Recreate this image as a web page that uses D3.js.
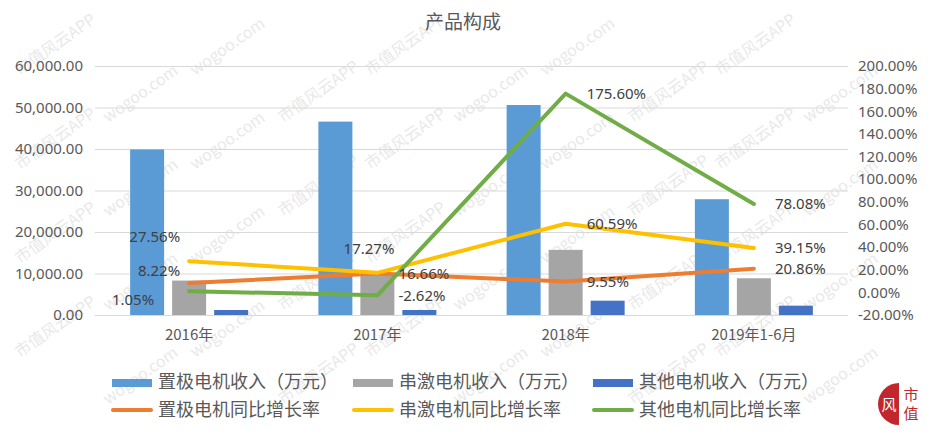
<!DOCTYPE html>
<html>
<head>
<meta charset="utf-8">
<script src="https://d3js.org/d3.v7.min.js"></script>
<style>
  body { margin: 0; background: #fff; }
  text { font-family: "Noto Sans", "Noto Sans CJK SC", sans-serif; }
</style>
</head>
<body>
<div id="chart"></div>
<script>

// data
var categories = ["2016年", "2017年", "2018年", "2019年1-6月"];
var barNames = ["置极电机收入（万元）", "串激电机收入（万元）", "其他电机收入（万元）"];
var incomeZhiji = [39900, 46600, 50600, 27900];
var incomeChuanji = [8300, 10100, 15700, 8850];
var incomeOther = [1200, 1200, 3450, 2250];

var lineNames = ["置极电机同比增长率", "串激电机同比增长率", "其他电机同比增长率"];
var growthZhiji = [8.22, 16.66, 9.55, 20.86];
var growthChuanji = [27.56, 17.27, 60.59, 39.15];
var growthOther = [1.05, -2.62, 175.60, 78.08];

var leftTicks = [0, 10000, 20000, 30000, 40000, 50000, 60000];
var rightTicks = [-20, 0, 20, 40, 60, 80, 100, 120, 140, 160, 180, 200];

var barColors = ["#5b9bd5", "#a5a5a5", "#4472c4"];
var lineColors = ["#ed7d31", "#ffc000", "#70ad47"];

var W = 935, H = 435;
var margin = {top: 66, right: 87, bottom: 120, left: 95};

var svg = d3.select("#chart").append("svg")
    .attr("width", W)
    .attr("height", H);

// watermark (kept inside the picture, drawn first so the chart sits on top)
var wm = svg.append("g").attr("pointer-events", "none");
for (var r = 0; r < 8; r++) {
  for (var c = 0; c < 6; c++) {
    var px = 20 + c * 175 + (r % 2) * 88;
    var py = 76 + r * 47;
    if (px > 840) continue;
    wm.append("text")
      .attr("transform", "translate(" + px + "," + py + ") rotate(-35)")
      .attr("fill", "#9a9a9a")
      .attr("opacity", 0.22)
      .style("font-size", "16px")
      .style("font-family", "'Noto Sans CJK SC'")
      .text((r + c) % 2 === 0 ? "市值风云APP" : "wogoo.com");
  }
}

var x = d3.scaleBand()
    .domain(categories)
    .range([margin.left, W - margin.right]);

var xInner = d3.scaleBand()
    .domain([0, 1, 2])
    .range([-59, 59])
    .paddingInner(8 / 42);

var y = d3.scaleLinear()
    .domain([0, 60000])
    .range([H - margin.bottom, margin.top]);

var y2 = d3.scaleLinear()
    .domain([-20, 200])
    .range([H - margin.bottom, margin.top]);

// title
svg.append("text")
    .attr("x", 463)
    .attr("y", 29)
    .attr("text-anchor", "middle")
    .attr("fill", "#595959")
    .style("font-family", "'Noto Sans CJK SC'")
    .style("font-size", "19px")
    .text("产品构成");

// gridlines
svg.append("g")
  .selectAll("line")
  .data(leftTicks)
  .enter().append("line")
    .attr("x1", margin.left)
    .attr("x2", W - margin.right)
    .attr("y1", function(d) { return y(d) + 0.5; })
    .attr("y2", function(d) { return y(d) + 0.5; })
    .attr("stroke", "#d9d9d9")
    .attr("stroke-width", 1);

// left axis
var fmtLeft = d3.format(",.2f");
var gLeft = svg.append("g")
    .attr("transform", "translate(" + margin.left + ",0)")
    .call(d3.axisLeft(y).tickValues(leftTicks).tickFormat(fmtLeft).tickSize(0).tickPadding(12));
gLeft.select(".domain").remove();
gLeft.selectAll("text")
    .attr("fill", "#595959")
    .style("font-size", "15px")
    .style("font-family", "'Noto Sans'");

// right axis
var gRight = svg.append("g")
    .attr("transform", "translate(" + (W - margin.right) + ",0)")
    .call(d3.axisRight(y2).tickValues(rightTicks).tickFormat(function(d) { return d.toFixed(2) + "%"; }).tickSize(0).tickPadding(10));
gRight.select(".domain").remove();
gRight.selectAll("text")
    .attr("fill", "#595959")
    .style("font-size", "15px")
    .style("font-family", "'Noto Sans'");

// category labels
var gX = svg.append("g")
    .attr("transform", "translate(0," + (H - margin.bottom) + ")")
    .call(d3.axisBottom(x).tickSize(0).tickPadding(14));
gX.select(".domain").remove();
gX.selectAll("text")
    .attr("fill", "#595959")
    .style("font-size", "15px")
    .style("font-family", "'Noto Sans CJK SC'");

// bars
var barSeries = [incomeZhiji, incomeChuanji, incomeOther];
barSeries.forEach(function(vals, si) {
  svg.append("g")
    .selectAll("rect")
    .data(vals)
    .enter().append("rect")
      .attr("x", function(d, i) { return x(categories[i]) + x.bandwidth() / 2 + xInner(si); })
      .attr("width", xInner.bandwidth())
      .attr("y", function(d) { return y(d); })
      .attr("height", function(d) { return y(0) - y(d); })
      .attr("fill", barColors[si]);
});

// lines
var lineSeries = [growthZhiji, growthChuanji, growthOther];
var line = d3.line()
    .x(function(d, i) { return x(categories[i]) + x.bandwidth() / 2; })
    .y(function(d) { return y2(d); });

lineSeries.forEach(function(vals, si) {
  svg.append("path")
    .datum(vals)
    .attr("d", line)
    .attr("fill", "none")
    .attr("stroke", lineColors[si])
    .attr("stroke-width", 4)
    .attr("stroke-linejoin", "round")
    .attr("stroke-linecap", "round");
});

// data labels, most sit to the right of the point, a few were dragged
var labelNudge = {
  "1-0": {anchor: "end", dx: -9, dy: -24},
  "0-0": {anchor: "end", dx: -9, dy: -12},
  "2-0": {anchor: "end", dx: -35, dy: 9},
  "1-1": {anchor: "end", dx: 17, dy: -24}
};
lineSeries.forEach(function(vals, si) {
  svg.append("g")
    .selectAll("text")
    .data(vals)
    .enter().append("text")
      .each(function(d, i) {
        var n = labelNudge[si + "-" + i] || {anchor: "start", dx: 21, dy: 0};
        d3.select(this)
          .attr("x", x(categories[i]) + x.bandwidth() / 2 + n.dx)
          .attr("y", y2(d) + n.dy)
          .attr("text-anchor", n.anchor);
      })
      .attr("dy", "0.35em")
      .attr("fill", "#404040")
      .style("font-size", "15px")
      .style("font-family", "'Noto Sans'")
      .text(function(d) { return d.toFixed(2) + "%"; });
});

// legend
var legendX = [112, 353, 593];
var leg = svg.append("g");
barNames.forEach(function(name, i) {
  leg.append("rect")
    .attr("x", legendX[i])
    .attr("y", 379)
    .attr("width", 40)
    .attr("height", 8)
    .attr("fill", barColors[i]);
  leg.append("text")
    .attr("x", legendX[i] + 46)
    .attr("y", 382)
    .attr("dy", "0.35em")
    .attr("fill", "#595959")
    .style("font-size", "18px")
    .style("font-family", "'Noto Sans CJK SC'")
    .text(name);
});
lineNames.forEach(function(name, i) {
  leg.append("line")
    .attr("x1", legendX[i] + 1)
    .attr("x2", legendX[i] + 39)
    .attr("y1", 410)
    .attr("y2", 410)
    .attr("stroke", lineColors[i])
    .attr("stroke-width", 4)
    .attr("stroke-linecap", "round");
  leg.append("text")
    .attr("x", legendX[i] + 46)
    .attr("y", 410)
    .attr("dy", "0.35em")
    .attr("fill", "#595959")
    .style("font-size", "18px")
    .style("font-family", "'Noto Sans CJK SC'")
    .text(name);
});

// corner logo
var logo = svg.append("g").attr("transform", "translate(899,404)");
logo.append("path")
    .attr("d", d3.arc()({innerRadius: 0, outerRadius: 21, startAngle: Math.PI, endAngle: 2 * Math.PI}))
    .attr("fill", "#c1272d");
logo.append("text")
    .attr("x", -10)
    .attr("y", 6)
    .attr("text-anchor", "middle")
    .attr("fill", "#fff")
    .style("font-size", "15px")
    .style("font-family", "'Noto Sans CJK SC'")
    .text("风");
logo.append("text")
    .attr("x", 12)
    .attr("y", -4)
    .attr("text-anchor", "middle")
    .attr("fill", "#c1272d")
    .style("font-size", "15px")
    .style("font-family", "'Noto Sans CJK SC'")
    .text("市");
logo.append("text")
    .attr("x", 12)
    .attr("y", 15)
    .attr("text-anchor", "middle")
    .attr("fill", "#c1272d")
    .style("font-size", "15px")
    .style("font-family", "'Noto Sans CJK SC'")
    .text("值");

</script>
</body>
</html>
